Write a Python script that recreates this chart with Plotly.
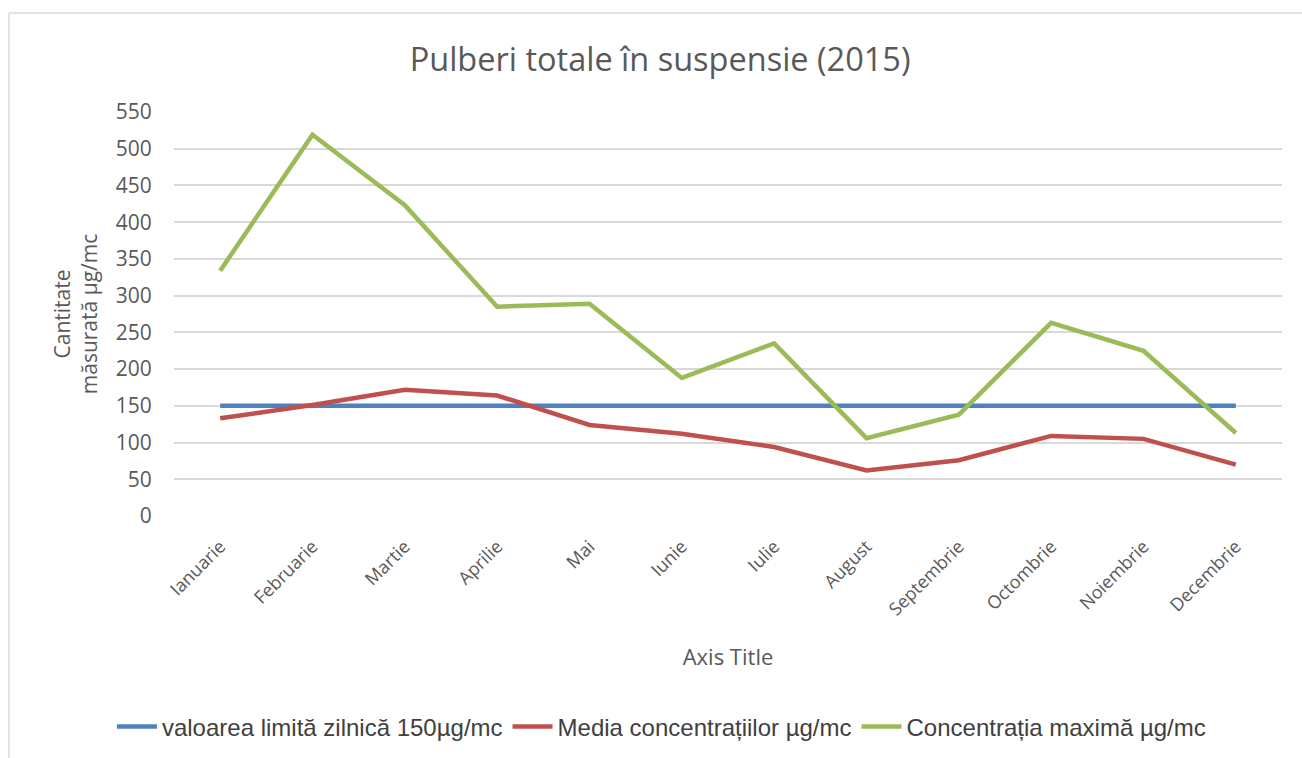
import plotly.graph_objects as go

months = ["Ianuarie", "Februarie", "Martie", "Aprilie", "Mai", "Iunie",
          "Iulie", "August", "Septembrie", "Octombrie", "Noiembrie", "Decembrie"]
limit_values = [150] * 12
mean_values = [133, 151, 172, 164, 124, 112, 94, 62, 76, 109, 105, 70]
max_values = [334, 519, 423, 285, 289, 188, 235, 106, 138, 263, 225, 113]

series_names = ["valoarea limită zilnică 150µg/mc",
                "Media concentrațiilor µg/mc",
                "Concentrația maximă µg/mc"]
colors = ["#4f81bd", "#c0504d", "#9bbb59"]

W, H = 1302, 758
L, R, T, B = 174, 1282, 112, 516

fig = go.Figure()
for name, vals, col in zip(series_names, [limit_values, mean_values, max_values], colors):
    fig.add_trace(go.Scatter(x=months, y=vals, mode="lines", name=name,
                             line=dict(color=col, width=4.5)))

def px2x(p):
    return (p - L) / (R - L)

def px2y(p):
    return (B - p) / (B - T)

fig.add_shape(type="line", xref="paper", yref="paper",
              x0=px2x(9), x1=px2x(1302), y0=px2y(13), y1=px2y(13),
              line=dict(color="#d9d9d9", width=1.5))
fig.add_shape(type="line", xref="paper", yref="paper",
              x0=px2x(9), x1=px2x(9), y0=px2y(13), y1=px2y(758),
              line=dict(color="#d9d9d9", width=1.5))

fig.update_layout(
    width=W, height=H,
    margin=dict(l=L, r=W - R, t=T, b=H - B, autoexpand=False),
    paper_bgcolor="white", plot_bgcolor="white",
    font=dict(family="Open Sans", color="#595959"),
    title=dict(text="Pulberi totale în suspensie (2015)", x=0.507, xanchor="center",
               y=1 - 60 / H, yanchor="middle",
               font=dict(size=32.5, color="#595959", family="Open Sans")),
    showlegend=True,
    legend=dict(orientation="h", x=0.508, xanchor="center", xref="container",
                y=1 - 727 / H, yanchor="middle", yref="container",
                font=dict(size=24, color="#404040", family="Liberation Sans"),
                itemwidth=40, tracegroupgap=0),
)

fig.update_xaxes(
    type="category", range=[-0.5, 11.5], automargin=False,
    showgrid=False, showline=False, zeroline=False,
    tickangle=-45, tickfont=dict(size=18, color="#595959", family="Open Sans"),
    ticks="outside", ticklen=12, tickcolor="rgba(0,0,0,0)",
    title=dict(text="Axis Title", font=dict(size=22, color="#595959", family="Open Sans"),
               standoff=30),
)
fig.update_yaxes(
    range=[0, 550], dtick=50, tick0=0, automargin=False,
    showgrid=True, gridcolor="#d9d9d9", gridwidth=1.5,
    zeroline=False, showline=False,
    tickfont=dict(size=21, color="#595959", family="Open Sans"),
    ticks="outside", ticklen=17, tickcolor="rgba(0,0,0,0)",
    title=dict(text="Cantitate<br>măsurată µg/mc",
               font=dict(size=21, color="#595959", family="Open Sans"), standoff=12),
)

fig.write_html("out.html", config={"displayModeBar": False},
               post_script="document.body.style.margin='0';")
